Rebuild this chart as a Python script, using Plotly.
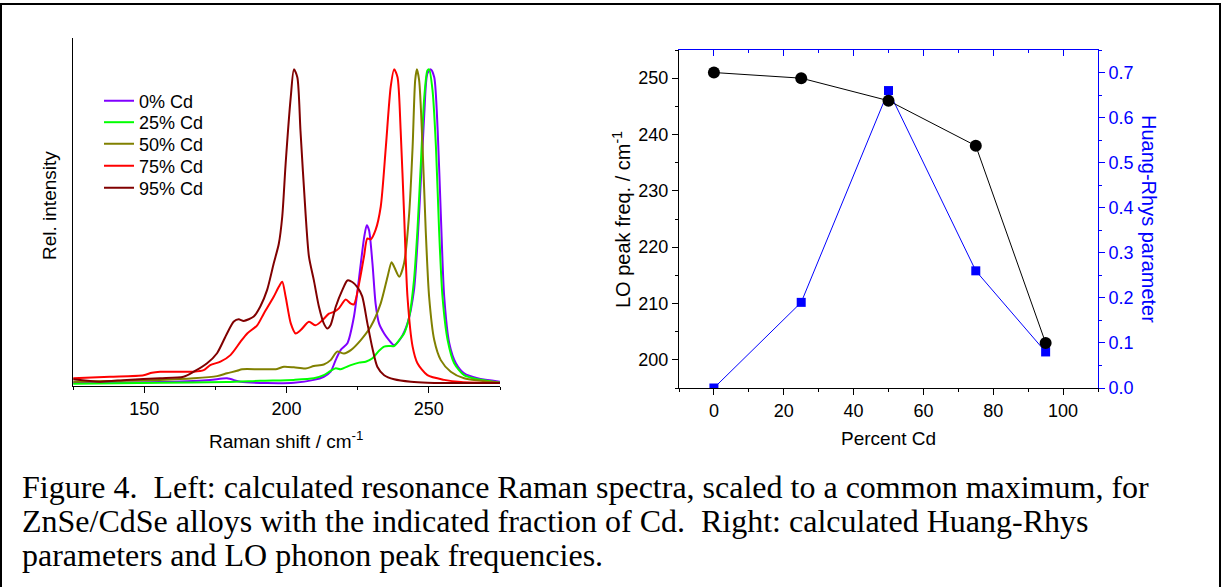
import plotly.graph_objects as go

W, H = 1225, 587

# ---------------- Left panel: calculated resonance Raman spectra ----------------
series_names = ["0% Cd", "25% Cd", "50% Cd", "75% Cd", "95% Cd"]
series_colors = ["#8000FF", "#00FF00", "#808000", "#FF0000", "#800000"]

shift_0 = [125.1, 155.6, 173.2, 179.1, 183.8, 193.2, 202.6, 209.6, 213.1, 215.5, 217.3, 219.0,
           221.4, 223.7, 226.1, 227.3, 228.2, 229.0, 230.2, 231.3, 232.5, 234.3, 236.0, 237.8,
           240.1, 242.5, 244.8, 246.6, 248.4, 249.5, 250.7, 251.9, 253.1, 254.2, 255.4, 257.2,
           259.5, 262.4, 267.1, 275.0]
int_0 = [0.001, 0.003, 0.010, 0.015, 0.004, 0.000, 0.001, 0.010, 0.020, 0.036, 0.074, 0.105,
         0.127, 0.212, 0.381, 0.466, 0.503, 0.487, 0.381, 0.253, 0.190, 0.158, 0.137, 0.121,
         0.142, 0.190, 0.297, 0.541, 0.859, 0.987, 1.000, 0.975, 0.806, 0.540, 0.275, 0.126,
         0.063, 0.031, 0.015, 0.004]

shift_25 = [125.1, 155.6, 179.1, 190.8, 202.6, 209.6, 213.1, 215.5, 217.3, 219.0, 222.6, 225.5,
            227.8, 230.2, 232.5, 234.3, 236.0, 237.8, 239.6, 241.3, 243.1, 244.8, 246.0, 247.2,
            248.4, 249.5, 250.1, 251.3, 252.5, 253.6, 254.8, 256.6, 258.9, 262.4, 267.1, 275.0]
int_25 = [-0.002, 0.001, 0.003, 0.007, 0.010, 0.015, 0.025, 0.039, 0.047, 0.044, 0.057, 0.065,
          0.068, 0.079, 0.103, 0.116, 0.118, 0.118, 0.137, 0.158, 0.211, 0.329, 0.488, 0.700,
          0.912, 0.996, 1.000, 0.933, 0.753, 0.488, 0.275, 0.137, 0.063, 0.025, 0.012, 0.001]

shift_50 = [125.1, 155.6, 167.4, 175.6, 179.1, 182.6, 184.4, 190.8, 196.7, 199.1, 202.6, 206.7,
            209.6, 213.1, 215.5, 217.8, 220.2, 222.6, 226.1, 229.6, 233.1, 235.5, 236.9, 237.8,
            239.6, 241.3, 243.1, 244.3, 245.2, 245.8, 246.6, 247.8, 248.9, 250.1, 251.9, 254.2,
            257.7, 262.4, 275.0]
int_50 = [0.004, 0.010, 0.015, 0.022, 0.031, 0.039, 0.044, 0.044, 0.045, 0.052, 0.050, 0.046,
          0.054, 0.059, 0.073, 0.100, 0.094, 0.105, 0.137, 0.180, 0.254, 0.339, 0.385, 0.371,
          0.339, 0.382, 0.541, 0.753, 0.965, 1.000, 0.965, 0.753, 0.488, 0.275, 0.137, 0.073,
          0.036, 0.015, 0.001]

shift_75 = [125.1, 138.0, 149.8, 152.7, 155.6, 167.4, 170.9, 173.2, 176.8, 180.3, 183.8, 186.2,
            189.7, 192.0, 195.5, 197.3, 198.5, 199.7, 201.5, 203.2, 204.9, 207.9, 210.2, 212.6,
            214.9, 216.7, 218.4, 220.8, 222.6, 223.7, 225.5, 227.2, 228.4, 229.6, 231.3, 233.1,
            234.9, 236.6, 237.8, 239.0, 240.1, 241.3, 242.5, 244.3, 246.0, 249.5, 255.4, 261.3,
            275.0]
int_75 = [0.015, 0.020, 0.025, 0.033, 0.036, 0.036, 0.041, 0.057, 0.068, 0.089, 0.131, 0.158,
          0.184, 0.221, 0.275, 0.307, 0.323, 0.275, 0.190, 0.158, 0.168, 0.195, 0.184, 0.200,
          0.221, 0.227, 0.238, 0.266, 0.253, 0.251, 0.317, 0.402, 0.461, 0.458, 0.488, 0.562,
          0.753, 0.944, 1.000, 0.975, 0.806, 0.540, 0.275, 0.116, 0.063, 0.025, 0.010, 0.003,
          0.000]

shift_95 = [125.1, 134.5, 143.9, 155.6, 163.8, 167.4, 172.1, 175.6, 179.1, 181.5, 183.2, 185.0,
            188.5, 190.8, 193.2, 195.5, 197.3, 198.5, 199.7, 201.5, 202.6, 203.8, 204.9, 206.7,
            207.9, 209.6, 211.4, 213.1, 214.3, 215.5, 217.3, 219.6, 221.4, 223.1, 224.9, 226.6,
            228.4, 230.2, 231.9, 234.3, 237.8, 243.7, 249.5, 261.3, 275.0]
int_95 = [0.012, 0.004, 0.010, 0.015, 0.020, 0.036, 0.063, 0.095, 0.158, 0.196, 0.203, 0.198,
          0.212, 0.244, 0.297, 0.381, 0.444, 0.530, 0.700, 0.912, 1.000, 0.975, 0.806, 0.540,
          0.402, 0.328, 0.243, 0.190, 0.174, 0.185, 0.243, 0.296, 0.327, 0.322, 0.306, 0.276,
          0.191, 0.110, 0.052, 0.025, 0.012, 0.004, 0.001, 0.000, 0.000]

spectra_x = [shift_0, shift_25, shift_50, shift_75, shift_95]
spectra_y = [int_0, int_25, int_50, int_75, int_95]

# ---------------- Right panel: LO peak frequency and Huang-Rhys parameter ----------------
percent_cd = [0, 25, 50, 75, 95]
lo_freq = [251, 250, 246, 238, 203]
huang_rhys = [0.00, 0.19, 0.66, 0.26, 0.08]

caption_lines = [
    "Figure 4.  Left: calculated resonance Raman spectra, scaled to a common maximum, for",
    "ZnSe/CdSe alloys with the indicated fraction of Cd.  Right: calculated Huang-Rhys",
    "parameters and LO phonon peak frequencies.",
]

SANS = "Liberation Sans, Arial, sans-serif"
SERIF = "Liberation Serif, Times New Roman, serif"
BLUE = "#0000FF"


def px(xp):
    return xp / W


def py(yp):
    return 1 - yp / H


fig = go.Figure()

legend_ids = ["legend", "legend2", "legend3", "legend4", "legend5"]
legend_rows = [101, 122.5, 144, 166, 188]

for name, color, xs, ys, lid in zip(series_names, series_colors, spectra_x, spectra_y, legend_ids):
    fig.add_trace(go.Scatter(
        x=xs, y=ys, name=name, mode="lines",
        line=dict(color=color, width=2, shape="spline", smoothing=0.7),
        xaxis="x", yaxis="y", legend=lid,
    ))

fig.add_trace(go.Scatter(
    x=percent_cd, y=huang_rhys, mode="lines+markers", showlegend=False,
    line=dict(color=BLUE, width=1),
    marker=dict(symbol="square", size=9, color=BLUE),
    xaxis="x2", yaxis="y2",
))
fig.add_trace(go.Scatter(
    x=percent_cd, y=lo_freq, mode="lines+markers", showlegend=False,
    line=dict(color="black", width=1),
    marker=dict(symbol="circle", size=12, color="black"),
    xaxis="x2", yaxis="y3",
))
# invisible trace to carry the blue mirrored top axis
fig.add_trace(go.Scatter(
    x=[percent_cd[0]], y=[huang_rhys[0]], mode="markers", showlegend=False,
    marker=dict(opacity=0), hoverinfo="skip", xaxis="x3", yaxis="y2",
))

tickfont = dict(family=SANS, size=18, color="black")

annotations = [
    dict(text="Rel. intensity", x=px(50), y=py(205), textangle=-90,
         font=dict(family=SANS, size=19, color="black")),
    dict(text="Raman shift / cm<sup>-1</sup>", x=px(286), y=py(440),
         font=dict(family=SANS, size=19, color="black")),
    dict(text="LO peak freq. / cm<sup>-1</sup>", x=px(621), y=py(220), textangle=-90,
         font=dict(family=SANS, size=20, color="black")),
    dict(text="Huang-Rhys parameter", x=px(1149), y=py(219), textangle=90,
         font=dict(family=SANS, size=20, color=BLUE)),
    dict(text="Percent Cd", x=px(888), y=py(438),
         font=dict(family=SANS, size=19, color="black")),
]
for i, line in enumerate(caption_lines):
    annotations.append(dict(text=line, x=px(20), y=py(487 + 34 * i), xanchor="left",
                            font=dict(family=SERIF, size=32, color="black")))
for a in annotations:
    a.update(xref="paper", yref="paper", showarrow=False)
    a.setdefault("xanchor", "center")
    a.setdefault("yanchor", "middle")

legend_layout = {}
for lid, row in zip(legend_ids, legend_rows):
    legend_layout[lid] = dict(
        x=px(99), y=py(row), xanchor="left", yanchor="middle",
        font=dict(family=SANS, size=18, color="black"),
        bgcolor="rgba(0,0,0,0)", borderwidth=0, itemwidth=30,
    )

fig.update_layout(
    width=W, height=H,
    margin=dict(l=0, r=0, t=0, b=0, autoexpand=False),
    paper_bgcolor="white", plot_bgcolor="rgba(0,0,0,0)",
    showlegend=True,
    xaxis=dict(domain=[px(73), px(500)], range=[125, 275], anchor="y",
               showline=True, linecolor="black", linewidth=1, showgrid=False, zeroline=False,
               ticks="outside", ticklen=6, tickcolor="black", tickvals=[150, 200, 250],
               tickfont=tickfont,
               minor=dict(tickvals=[125, 175, 225, 275], ticks="outside", ticklen=3,
                          tickcolor="black", showgrid=False)),
    yaxis=dict(domain=[py(386), py(38)], range=[-0.0095, 1.1], anchor="x",
               showline=True, linecolor="black", linewidth=1, showgrid=False, zeroline=False,
               showticklabels=False, ticks=""),
    xaxis2=dict(domain=[px(679), px(1098)], range=[-10, 110], anchor="y2",
                showline=True, linecolor="black", linewidth=1, showgrid=False, zeroline=False,
                ticks="outside", ticklen=6, tickcolor="black", dtick=20, tick0=0,
                tickfont=tickfont,
                minor=dict(dtick=10, tick0=0, ticks="outside", ticklen=3,
                           tickcolor="black", showgrid=False)),
    xaxis3=dict(domain=[px(679), px(1098)], range=[-10, 110], anchor="y2", overlaying="x2",
                side="top", showline=True, linecolor=BLUE, linewidth=1, showgrid=False,
                zeroline=False, ticks="inside", ticklen=6, tickcolor=BLUE, dtick=20, tick0=0,
                showticklabels=False,
                minor=dict(dtick=10, tick0=0, ticks="inside", ticklen=3,
                           tickcolor=BLUE, showgrid=False)),
    yaxis2=dict(domain=[py(388), py(50)], range=[0, 0.75], anchor="x2", side="right",
                showline=True, linecolor=BLUE, linewidth=1, showgrid=False, zeroline=False,
                ticks="outside", ticklen=6, tickcolor=BLUE, dtick=0.1, tick0=0,
                tickformat=".1f", tickfont=dict(family=SANS, size=18, color=BLUE),
                minor=dict(dtick=0.05, tick0=0, ticks="outside", ticklen=3,
                           tickcolor=BLUE, showgrid=False)),
    yaxis3=dict(domain=[py(388), py(50)], range=[195, 255], anchor="x2", side="left",
                overlaying="y2",
                showline=True, linecolor="black", linewidth=1, showgrid=False, zeroline=False,
                ticks="outside", ticklen=6, tickcolor="black", dtick=10, tick0=200,
                tickfont=tickfont,
                minor=dict(dtick=5, tick0=200, ticks="outside", ticklen=3,
                           tickcolor="black", showgrid=False)),
    annotations=annotations,
    shapes=[dict(type="rect", xref="paper", yref="paper",
                 x0=px(1), x1=px(1220), y0=py(600), y1=py(4),
                 line=dict(color="black", width=2), fillcolor="rgba(0,0,0,0)")],
    **legend_layout,
)

fig.write_html("out.html", config={"displayModeBar": False},
               post_script="document.body.style.margin='0';")
